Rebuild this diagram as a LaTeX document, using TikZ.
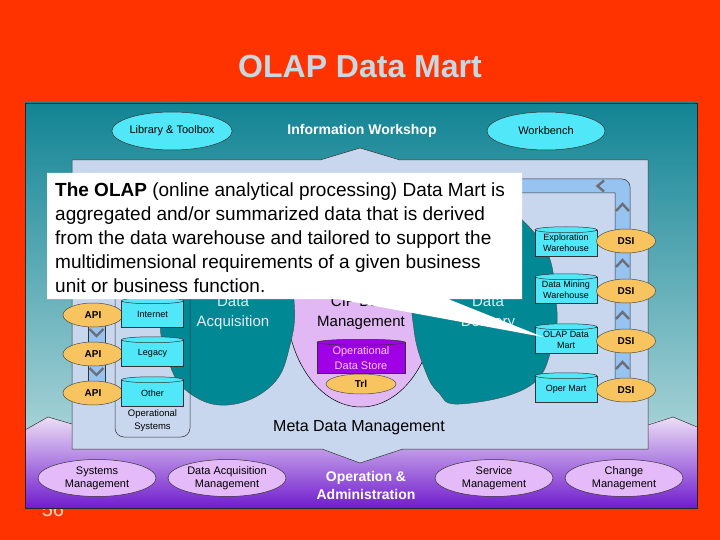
\documentclass[tikz,border=0pt]{standalone}
\usepackage{fontspec}
\setmainfont{Liberation Sans}
\usetikzlibrary{shapes.geometric}
\definecolor{bgred}{RGB}{255,51,0}
\definecolor{titlecol}{RGB}{200,216,224}
\definecolor{tealtop}{RGB}{18,132,148}
\definecolor{tealbot}{RGB}{200,228,230}
\definecolor{lavtop}{RGB}{236,222,246}
\definecolor{lavmid}{RGB}{210,172,238}
\definecolor{lavbot}{RGB}{112,28,205}
\definecolor{innerbg}{RGB}{200,214,238}
\definecolor{cyanfill}{RGB}{80,232,248}
\definecolor{blobteal}{RGB}{0,136,148}
\definecolor{lavblob}{RGB}{226,184,244}
\definecolor{odsfill}{RGB}{160,0,230}
\definecolor{odstext}{RGB}{245,205,250}
\definecolor{orangefill}{RGB}{248,196,96}
\definecolor{pipefill}{RGB}{150,195,240}
\definecolor{chevcol}{RGB}{110,110,120}
\definecolor{ovalfill}{RGB}{228,186,248}
\definecolor{blobtxt}{RGB}{228,236,244}
\definecolor{numcol}{RGB}{250,215,195}
\newcommand\cylcap[3]{\path[draw=black!80,line width=0.5pt,fill=#2] (#1.north) ellipse [x radius=#3, y radius=3pt];}
\tikzset{
  cyl/.style={draw=black!80, line width=0.5pt, fill=cyanfill, minimum width=62pt, minimum height=26pt, inner sep=0pt, align=center, font=\fontsize{9}{10.5}\selectfont},
  orov/.style={ellipse, draw=black!70, line width=0.5pt, fill=orangefill, inner sep=0pt, font=\bfseries\fontsize{10}{12}\selectfont},
  topov/.style={ellipse, draw=black!80, line width=0.5pt, fill=cyanfill, minimum width=118pt, minimum height=38pt, inner sep=0pt, font=\fontsize{11}{13}\selectfont},
  botov/.style={ellipse, draw=black!80, line width=0.5pt, fill=ovalfill, minimum width=118pt, minimum height=37pt, inner sep=0pt, align=center, font=\fontsize{11}{13}\selectfont},
  chev/.style={draw=chevcol, line width=2.4pt},
  blobtext/.style={align=center, font=\fontsize{15}{20}\selectfont},
  thinline/.style={draw=black!80, line width=0.5pt},
}
\begin{document}
\begin{tikzpicture}[x=1pt,y=-1pt]
% background
\fill[bgred] (0,0) rectangle (720,540);
\useasboundingbox (0,0) rectangle (720,540);
\node[text=numcol, font=\fontsize{20}{22}\selectfont] (pagenum) at (53,510) {56};
\node[text=titlecol, font=\bfseries\fontsize{32}{36}\selectfont] (title) at (360,66) {OLAP Data Mart};
% panel
\shade[top color=tealtop, bottom color=tealbot] (25,103) rectangle (697,508);
\shade[top color=lavtop, middle color=lavmid, bottom color=lavbot]
  (25,430) -- (48,417) -- (72,424) -- (648,424) -- (673,417) -- (697,427) -- (697,508) -- (25,508) -- cycle;
\draw[thinline] (25,430) -- (48,417) -- (72,424);
\draw[thinline] (648,425) -- (673,417) -- (697,427);
\draw[black!85, line width=0.8pt] (25,103) rectangle (697,508);
% inner area
\path[fill=innerbg, thinline] (72,160) -- (320,160) -- (360,148) -- (400,160) -- (648,160) -- (648,449)
  -- (403,449) -- (360,463) -- (322,449) -- (72,449) -- cycle;
% top ellipses
\node[topov] (lib) at (172,131) {Library \& Toolbox};
\node[topov] (wb) at (546,131) {Workbench};
\node[text=white, font=\bfseries\fontsize{14}{16}\selectfont] (iw) at (362,131) {Information Workshop};
% CIF blob
\path[fill=lavblob, draw=black, line width=0.5pt] (361,300) ellipse [x radius=75pt, y radius=107pt];
% teal blobs
\path[fill=blobteal, draw=black!70, line width=0.4pt] plot[smooth cycle, tension=0.7] coordinates
  {(230,190) (282,235) (294,300) (290,345) (272,385) (228,405) (188,392) (168,360) (160,315) (170,250)};
\path[fill=blobteal, draw=black!70, line width=0.4pt] plot[smooth cycle, tension=0.7] coordinates
  {(480,195) (540,240) (556,300) (552,347) (528,387) (460,404) (438,392) (425,370) (414,330) (414,280) (440,225)};
\node[blobtext, text=blobtxt] (da) at (233,313) {Data\\Acquisition};
\node[blobtext, text=black] (cif) at (361,313) {CIF Data\\Management};
\node[blobtext, text=blobtxt] (dd) at (488,313) {Data\\Delivery};
% ODS
\node[draw=black!80, line width=0.5pt, fill=odsfill, minimum width=88pt, minimum height=31pt, inner sep=0pt,
  text=odstext, align=center, font=\fontsize{11}{15}\selectfont] (ods) at (361,358) {Operational\\Data Store};
\cylcap{ods}{odsfill}{44pt}
\node[orov, minimum width=70pt, minimum height=20pt] (trl) at (361,384) {Trl};
% operational systems column
\node[thinline, rounded corners=9pt, minimum width=75pt, minimum height=197pt, inner sep=0pt] (opsys) at (152.5,338.5) {};
\node[align=center, font=\fontsize{9.5}{13}\selectfont] (opsyst) at (152.5,421) {Operational\\Systems};
% left API pipe
\path[fill=pipefill, thinline] (88,315) rectangle (105,393);
\draw[chev] (89.5,329) -- (96.5,336) -- (103.5,329);
\draw[chev] (89.5,368) -- (96.5,375) -- (103.5,368);
\node[orov, minimum width=60pt, minimum height=24pt] (api1) at (93,315) {API};
\node[orov, minimum width=60pt, minimum height=24pt] (api2) at (93,354) {API};
\node[orov, minimum width=60pt, minimum height=24pt] (api3) at (93,393) {API};
% left cylinders
\node[cyl] (inet) at (152.5,314) {Internet};
\cylcap{inet}{cyanfill}{31pt}
\node[cyl] (legacy) at (152.5,353) {Legacy};
\cylcap{legacy}{cyanfill}{31pt}
\node[cyl] (other) at (152.5,393) {Other};
\cylcap{other}{cyanfill}{31pt}
% right pipe
\path[fill=pipefill, thinline] (505,179) -- (622,179) arc[start angle=-90, end angle=0, radius=8] -- (630,380)
  -- (615,380) -- (615,193) -- (505,193) -- cycle;
\draw[chev] (604,180.5) -- (597.5,186) -- (604,191.5);
\foreach \c in {207,263,315,365} \draw[chev] (616,\c+4) -- (622.5,\c-3) -- (629,\c+4);
% right cylinders
\node[cyl] (ew) at (566,243) {Exploration\\Warehouse};
\cylcap{ew}{cyanfill}{31pt}
\node[cyl] (dmw) at (566,290) {Data Mining\\Warehouse};
\cylcap{dmw}{cyanfill}{31pt}
\node[cyl] (olap) at (566,340) {OLAP Data\\Mart};
\cylcap{olap}{cyanfill}{31pt}
\node[cyl] (oper) at (566,389) {Oper Mart};
\cylcap{oper}{cyanfill}{31pt}
\node[orov, minimum width=59pt, minimum height=24pt] (dsi1) at (626,241) {DSI};
\node[orov, minimum width=59pt, minimum height=24pt] (dsi2) at (626,291) {DSI};
\node[orov, minimum width=59pt, minimum height=24pt] (dsi3) at (626,341) {DSI};
\node[orov, minimum width=59pt, minimum height=24pt] (dsi4) at (626,390) {DSI};
% callout
\path[fill=white] (47,173) -- (522,173) -- (522,299) -- (448,299) -- (543,337) -- (337,299) -- (47,299) -- cycle;
\node[anchor=north west, inner sep=0pt, align=left, font=\fontsize{19}{24}\selectfont] (callout) at (55,183)
  {\textbf{The OLAP} (online analytical processing) Data Mart is\\
   aggregated and/or summarized data that is derived\\
   from the data warehouse and tailored to support the\\
   multidimensional requirements of a given business\\
   unit or business function.};
% meta data
\node[font=\fontsize{16}{18}\selectfont] (meta) at (359,428) {Meta Data Management};
% bottom ovals
\node[botov] (sysm) at (97,478) {Systems\\Management};
\node[botov] (dam) at (227,478) {Data Acquisition\\Management};
\node[align=center, text=white, font=\bfseries\fontsize{14}{18}\selectfont] (opadm) at (366,485) {Operation \&\\Administration};
\node[botov] (svcm) at (494,478) {Service\\Management};
\node[botov] (chm) at (624,478) {Change\\Management};
\end{tikzpicture}
\end{document}
